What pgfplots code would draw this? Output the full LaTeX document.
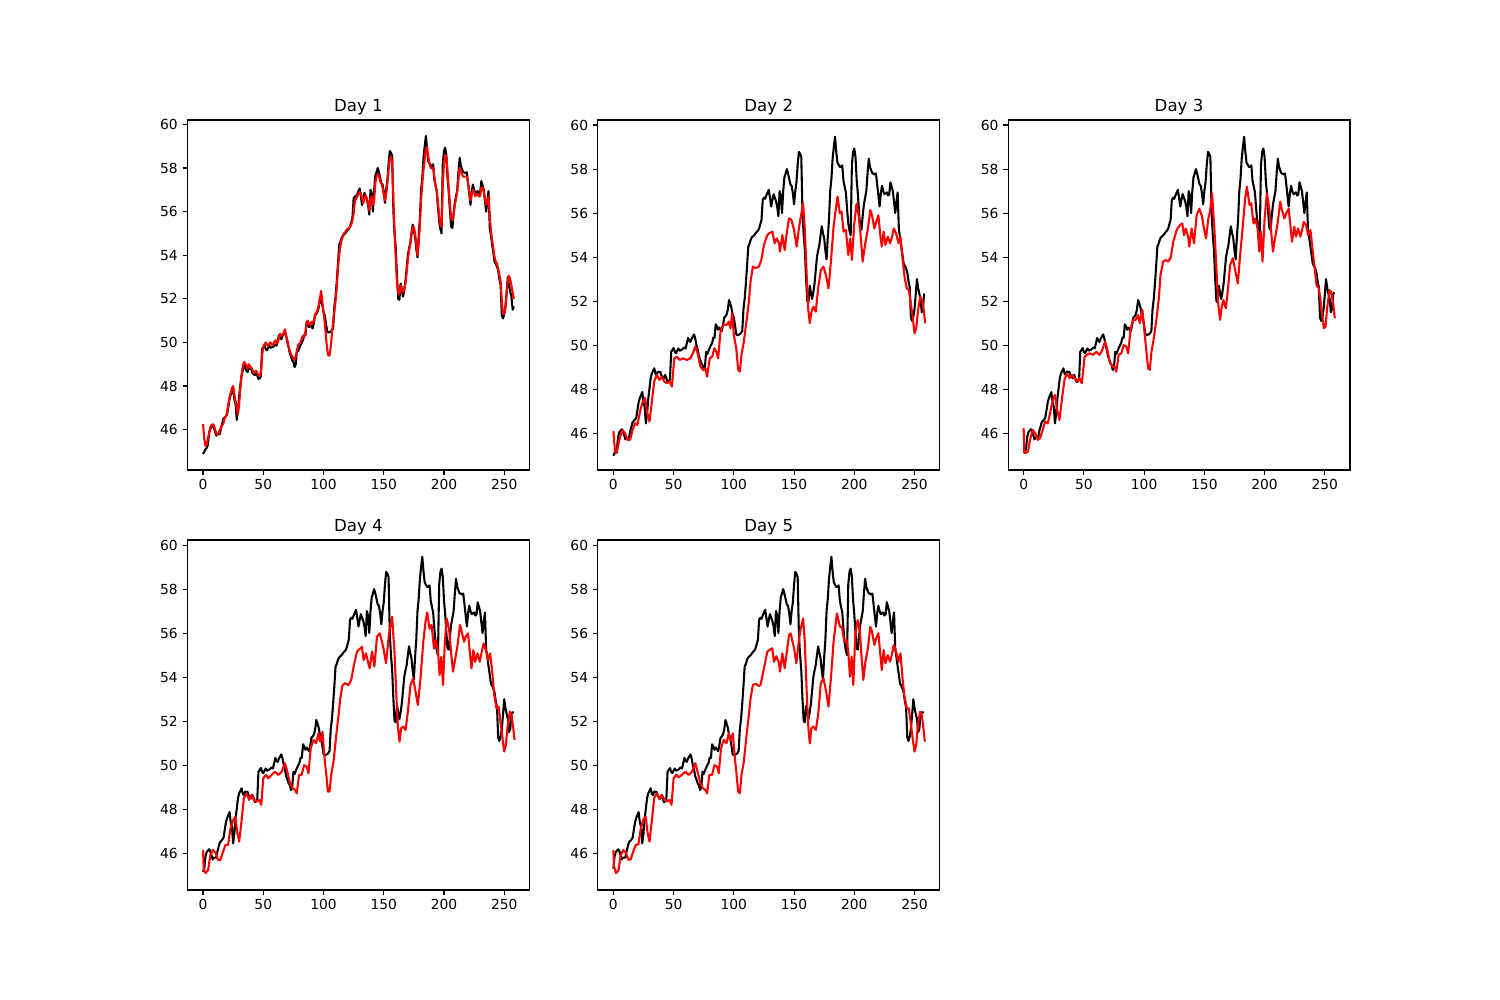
\documentclass[border=0pt]{standalone}
\usepackage{fontspec}
\setmainfont{DejaVu Sans}
\usepackage{pgfplots}
\usepackage{pgfplotstable}
\pgfplotsset{compat=1.18}

% actual series (panel k shows it shifted left by k-1 steps)
\pgfplotstableread[row sep=\\]{
x y\\
0 44.88\\ 1 44.98\\ 2 45.1\\ 3 45.15\\ 4 45.3\\ 5 45.85\\ 6 46.05\\ 8 46.18\\ 9 46.1\\ 11 45.72\\
12 45.8\\ 14 45.8\\ 15 46.1\\ 17 46.5\\ 19 46.62\\ 20 46.7\\ 22 47.41\\ 23 47.6\\ 25 47.87\\ 26 47.4\\
27 47.2\\ 28 46.45\\ 29 46.9\\ 30 47.57\\ 32 48.5\\ 33 48.72\\ 35 48.95\\ 36 48.7\\ 37 48.64\\ 38 48.8\\
40 48.78\\ 41 48.6\\ 43 48.5\\ 44 48.65\\ 46 48.33\\ 47 48.35\\ 48 48.45\\ 49 49.7\\ 51 49.87\\ 52 49.7\\
53 49.64\\ 55 49.85\\ 56 49.75\\ 58 49.8\\ 60 49.9\\ 61 49.85\\ 63 50.33\\ 64 50.2\\ 65 50.15\\ 66 50.3\\
68 50.49\\ 69 50.3\\ 70 50.0\\ 71 49.8\\ 72 49.5\\ 73 49.35\\ 74 49.18\\ 75 49.1\\ 76 48.87\\ 77 49.0\\
78 49.7\\ 79 49.6\\ 80 49.75\\ 82 50.0\\ 83 50.1\\ 84 50.35\\ 85 50.33\\ 86 50.95\\ 87 50.85\\ 88 50.7\\
89 50.8\\ 91 50.64\\ 92 50.9\\ 93 51.25\\ 94 51.3\\ 95 51.4\\ 96 51.6\\ 97 52.05\\ 98 51.9\\ 99 51.7\\
100 51.4\\ 101 51.25\\ 102 50.9\\ 103 50.5\\ 104 50.45\\ 106 50.5\\ 107 50.55\\ 108 50.64\\ 109 51.64\\ 110 52.1\\
111 52.8\\ 112 53.6\\ 113 54.48\\ 114 54.6\\ 115 54.79\\ 116 54.9\\ 118 55.0\\ 120 55.15\\ 121 55.2\\ 122 55.3\\
123 55.5\\ 124 55.7\\ 125 56.6\\ 126 56.7\\ 127 56.65\\ 128 56.8\\ 130 57.06\\ 131 56.7\\ 132 56.3\\ 133 56.6\\
134 56.86\\ 135 56.7\\ 136 56.55\\ 137 56.3\\ 138 55.86\\ 139 57.0\\ 140 56.8\\ 141 56.0\\ 142 57.0\\ 143 57.63\\
144 57.8\\ 145 58.0\\ 146 57.8\\ 147 57.55\\ 148 57.3\\ 149 57.24\\ 150 56.9\\ 151 56.4\\ 152 57.0\\ 153 57.4\\
154 58.2\\ 155 58.78\\ 156 58.7\\ 157 58.55\\ 158 56.0\\ 159 55.0\\ 160 54.3\\ 161 53.0\\ 162 52.0\\ 163 51.95\\
164 52.7\\ 165 52.4\\ 166 52.1\\ 167 52.4\\ 168 52.8\\ 169 53.4\\ 170 54.0\\ 171 54.3\\ 172 54.55\\ 173 55.0\\
174 55.4\\ 175 55.1\\ 176 54.86\\ 177 54.3\\ 178 53.9\\ 179 54.9\\ 180 55.7\\ 181 57.0\\ 182 57.55\\ 183 58.47\\
184 59.0\\ 185 59.47\\ 186 58.8\\ 187 58.3\\ 188 58.2\\ 189 58.1\\ 190 58.1\\ 191 58.17\\ 192 57.47\\ 193 57.2\\
194 56.94\\ 195 56.2\\ 196 55.55\\ 197 55.2\\ 198 55.0\\ 199 58.2\\ 200 58.78\\ 201 58.93\\ 202 58.55\\ 203 57.5\\
204 56.86\\ 205 56.0\\ 206 55.3\\ 207 55.25\\ 208 55.9\\ 209 56.4\\ 210 56.7\\ 211 57.0\\ 212 57.8\\ 213 58.47\\
214 58.1\\ 215 57.94\\ 216 57.8\\ 217 57.8\\ 218 57.75\\ 219 57.8\\ 220 57.3\\ 221 56.8\\ 222 56.3\\ 223 56.9\\
224 57.24\\ 225 57.0\\ 226 56.86\\ 227 56.9\\ 228 56.94\\ 229 56.8\\ 230 56.85\\ 231 57.4\\ 232 57.2\\ 233 57.0\\
234 56.5\\ 235 56.0\\ 236 56.5\\ 237 56.94\\ 238 55.25\\ 239 54.9\\ 240 54.48\\ 241 54.1\\ 242 53.7\\ 243 53.6\\
244 53.48\\ 245 53.3\\ 246 52.9\\ 247 52.64\\ 248 51.25\\ 249 51.1\\ 250 51.3\\ 251 51.64\\ 252 52.3\\ 253 53.0\\
254 52.6\\ 255 52.33\\ 256 52.1\\ 257 51.5\\ 258 51.65\\ 259 52.35\\ 260 52.4\\ 261 52.4\\ 262 52.4\\ 263 52.4\\
}\actual

\pgfplotsset{
  dayaxis/.style={
    scale only axis, width=3.419in, height=3.5in, anchor=south west,
    xmin=-12.9, xmax=270.9,
    xtick={0,50,...,250}, ytick={46,48,...,60},
    tick align=outside, tick pos=left,
    major tick length=3.5pt,
    every tick/.style={black, line width=0.8pt},
    axis line style={line width=0.8pt},
    ticklabel style={font=\fontsize{10}{12}\selectfont},
    /pgf/number format/assume math mode=true,
    title style={font=\fontsize{12}{14}\selectfont, at={(0.5,1)}, anchor=base, inner sep=0pt},
  },
  actual/.style={black, line width=1.5pt, line join=round},
  pred/.style={red, line width=1.5pt, line join=round},
}

\begin{document}
\begin{tikzpicture}
\path[use as bounding box] (0,0) rectangle (15in,10in);

% ---------- Day 1 ----------
\begin{axis}[dayaxis, at={(1.875in,5.30in)}, ymin=44.15, ymax=60.2, title={Day 1}]
\addplot[actual, restrict x to domain=0:258] table[x=x, y=y] {\actual};
\addplot[pred] coordinates {
(0,46.26)(1,45.6)(2,45.26)(3,45.3)(4,45.6)(5,45.8)(6,46.1)(7,46.2)(8,46.25)(9,46.2)
(10,46.0)(11,45.85)(12,45.75)(13,45.85)(14,46.0)(16,46.2)(17,46.3)(18,46.55)(19,46.6)(20,46.8)
(21,47.2)(22,47.5)(23,47.7)(24,47.9)(25,48.0)(26,47.6)(27,47.3)(28,47.0)(29,46.7)(30,47.2)
(31,47.9)(32,48.5)(33,48.9)(34,49.1)(35,49.05)(36,48.9)(37,48.8)(38,49.0)(39,48.9)(40,48.85)
(41,48.75)(42,48.6)(43,48.65)(44,48.7)(45,48.6)(46,48.5)(47,48.45)(48,48.6)(49,49.4)(50,49.8)
(51,49.9)(52,50.0)(53,49.9)(54,49.85)(55,49.95)(56,50.0)(57,49.9)(58,49.9)(59,50.0)(60,50.1)
(61,49.95)(62,50.0)(63,50.2)(64,50.4)(65,50.3)(66,50.35)(67,50.45)(68,50.6)(69,50.3)(70,50.1)
(71,49.8)(72,49.6)(73,49.45)(74,49.35)(75,49.3)(76,49.2)(77,49.35)(78,49.6)(79,49.9)(80,49.95)
(81,50.0)(82,50.2)(83,50.3)(84,50.25)(85,50.5)(86,50.9)(87,51.0)(88,50.85)(89,50.8)(90,50.95)
(91,50.85)(92,51.0)(93,51.3)(94,51.35)(95,51.5)(96,51.7)(97,52.0)(98,52.36)(99,51.9)(100,51.4)
(101,50.9)(102,50.3)(103,49.7)(104,49.4)(105,49.4)(106,49.8)(107,50.4)(108,51.0)(109,51.4)(110,51.9)
(111,52.5)(112,53.4)(113,54.0)(114,54.4)(115,54.7)(116,54.85)(117,55.0)(118,55.05)(119,55.15)(120,55.2)
(121,55.25)(122,55.3)(123,55.4)(124,55.6)(125,55.9)(126,56.45)(127,56.6)(128,56.7)(129,56.8)(130,56.9)
(131,56.85)(132,56.6)(133,56.4)(134,56.6)(135,56.75)(136,56.6)(137,56.35)(138,56.05)(139,56.6)(140,56.7)
(141,56.3)(142,56.5)(143,57.3)(144,57.6)(145,57.7)(146,57.65)(147,57.4)(148,57.3)(149,57.1)(150,56.8)
(151,56.5)(152,56.8)(153,57.3)(154,57.9)(155,58.4)(156,58.5)(157,58.3)(158,56.6)(159,55.0)(160,53.8)
(161,52.7)(162,52.3)(163,52.2)(164,52.6)(165,52.55)(166,52.3)(167,52.4)(168,52.7)(169,53.2)(170,53.8)
(171,54.2)(172,54.5)(173,54.9)(174,55.3)(175,55.3)(176,55.0)(177,54.5)(178,54.0)(179,54.5)(180,55.4)
(181,56.5)(182,57.3)(183,57.9)(184,58.4)(185,58.9)(186,58.95)(187,58.5)(188,58.2)(189,58.0)(190,58.0)
(191,58.0)(192,57.6)(193,57.2)(194,56.9)(195,56.4)(196,55.8)(197,55.4)(198,55.3)(199,57.2)(200,58.2)
(201,58.6)(202,58.5)(203,57.8)(204,57.0)(205,56.3)(206,55.7)(207,55.6)(208,55.9)(209,56.3)(210,56.6)
(211,56.9)(212,57.5)(213,58.0)(214,57.9)(215,57.7)(216,57.6)(217,57.6)(218,57.6)(219,57.6)(220,57.3)
(221,56.9)(222,56.5)(223,56.8)(224,57.0)(225,56.9)(226,56.7)(227,56.8)(228,56.8)(229,56.7)(230,56.7)
(231,57.1)(232,57.1)(233,56.9)(234,56.6)(235,56.3)(236,56.4)(237,56.7)(238,55.8)(239,55.1)(240,54.7)
(241,54.3)(242,53.9)(243,53.7)(244,53.6)(245,53.4)(246,53.1)(247,52.8)(248,51.9)(249,51.3)(250,51.3)
(251,51.6)(252,52.2)(253,52.8)(254,53.05)(255,52.9)(256,52.6)(257,52.3)(258,52.0)
};
\end{axis}

% ---------- Day 2 ----------
\begin{axis}[dayaxis, at={(5.978in,5.30in)}, ymin=44.33, ymax=60.23, title={Day 2}]
\addplot[actual, restrict x to domain=0:258.5] table[x expr=\thisrow{x}-1, y=y] {\actual};
\addplot[pred] coordinates {
(0,46.1)(1.4,45.17)(2.8,45.1)(5,45.7)(7.5,46.15)(9.7,46.0)(11.7,45.7)(13.9,45.7)(16,46.15)(18,46.45)
(20,46.38)(22.2,47.0)(24.4,47.44)(26.4,47.6)(27.8,47.0)(30,46.53)(32,47.44)(33.9,48.35)(36.1,48.65)(38.3,48.42)
(40.3,48.57)(42.2,48.35)(44.4,48.27)(46.7,48.35)(48.6,48.12)(50.6,49.4)(52.8,49.48)(55,49.33)(57.8,49.4)(61,49.33)
(63.9,49.4)(66,49.63)(68,49.94)(70,49.63)(72.2,49.03)(74.4,48.88)(76.4,48.95)(77.8,48.57)(80,49.4)(82,49.48)
(83.9,49.86)(85.5,49.7)(87,49.4)(88.9,50.6)(91.1,50.92)(93.9,50.92)(95.8,51.07)(97.2,50.77)(98.6,51.45)(100,50.47)
(102,49.86)(103.6,48.88)(105,48.8)(106.4,49.56)(108.3,50.16)(110.5,51.07)(112.5,51.98)(113.9,52.9)(115.8,53.57)(118,53.5)
(120.8,53.57)(122.8,53.87)(125,54.55)(127.8,55.0)(129.2,55.08)(132,55.16)(133.9,54.63)(135.6,54.85)(137.5,54.63)(138.3,54.25)
(140.3,55.0)(142.2,54.32)(143.9,55.08)(145.8,55.76)(147.8,55.7)(150,55.23)(152.2,54.48)(154.2,55.38)(155.6,55.84)(157.5,56.44)
(158.9,55.3)(160.6,53.04)(161.7,51.68)(163,51.0)(164.4,51.52)(166.1,51.75)(168,51.52)(170,52.58)(172.2,53.4)(174.4,53.57)
(176.4,53.2)(178.6,52.58)(180.6,53.8)(182.8,55.38)(184.7,56.2)(186.1,56.75)(188,56.0)(189.4,56.07)(191.1,55.16)(193,55.24)
(195,54.1)(196.7,54.85)(198,53.87)(200,55.53)(201.9,56.44)(203.6,55.9)(205.6,54.78)(206.9,53.8)(208.9,54.55)(211.1,55.23)
(213.3,56.14)(214.7,55.9)(216.7,55.3)(218.1,55.6)(220,55.9)(221.7,54.93)(222.8,54.48)(224.4,55.16)(225.8,54.55)(227.8,54.93)
(229.7,54.63)(231.4,54.93)(232.8,55.3)(234.7,55.08)(236.7,54.63)(238.3,54.93)(240.3,53.8)(241.7,53.1)(243.6,52.58)(245.3,52.5)
(246.7,51.98)(248.6,51.22)(250,50.54)(251.4,50.77)(252.8,51.52)(254.7,52.2)(256.4,52.05)(257.8,51.52)(258.8,51.0)
};
\end{axis}

% ---------- Day 3 ----------
\begin{axis}[dayaxis, at={(10.081in,5.30in)}, ymin=44.33, ymax=60.23, title={Day 3}]
\addplot[actual, restrict x to domain=0:258.5] table[x expr=\thisrow{x}-2, y=y] {\actual};
\addplot[pred] coordinates {
(0,46.23)(0.5,45.17)(1.9,45.1)(3.6,45.17)(5.3,45.7)(7.5,46.15)(9.7,46.0)(11.7,45.7)(13.6,45.77)(15.8,46.15)
(17.8,46.53)(20,46.45)(21.9,46.9)(24.2,47.51)(26.1,47.74)(27.5,47.13)(29.7,46.6)(31.9,47.6)(33.9,48.42)(35.8,48.72)
(38,48.5)(40,48.65)(42.2,48.5)(44.2,48.35)(46.4,48.5)(48.3,48.27)(50.6,49.48)(52.5,49.56)(54.7,49.63)(57.5,49.56)
(60.3,49.7)(63,49.56)(65.3,49.78)(67.5,50.16)(69.2,49.86)(71.4,49.25)(73.6,49.03)(75.6,49.03)(76.9,48.8)(78.9,49.56)
(81.1,49.63)(83,50.0)(85.3,49.93)(86.7,49.63)(88.9,50.77)(90.8,51.15)(93,51.15)(95,51.37)(96.4,51.0)(98.6,51.6)
(100,50.77)(101.9,49.7)(103.3,48.95)(104.7,48.88)(106.1,49.7)(108,50.3)(110.3,51.22)(112.2,52.13)(113.6,53.19)(115.8,53.8)
(117.8,53.87)(120,53.8)(122.2,54.0)(124.2,54.7)(127,55.23)(129.7,55.46)(131.7,55.53)(133.1,55.0)(134.7,55.3)(136.7,54.85)
(137.5,54.48)(139.4,55.3)(141.4,54.63)(143.6,55.9)(145.8,56.2)(147.8,55.9)(149.7,55.3)(151.4,54.85)(153.3,55.76)(154.7,56.07)
(156.4,56.9)(158.3,55.3)(160.3,53.19)(161.7,51.75)(163.1,51.15)(164.4,51.75)(165.8,52.05)(167.8,51.68)(169.4,52.43)(171.4,53.64)
(173.6,53.95)(175.6,53.4)(177.8,52.8)(179.7,54.1)(182,55.46)(183.9,56.67)(185.3,57.2)(187.5,56.37)(188.9,56.45)(190.8,55.53)
(192.2,55.76)(194.2,55.3)(195.6,54.25)(196.9,55.16)(198.3,53.8)(200,55.76)(201.9,56.9)(203.9,56.2)(205.6,55.08)(206.9,54.25)
(208.9,54.93)(210.8,55.53)(213,56.52)(214.4,56.14)(216.4,55.76)(218,55.99)(220,56.2)(221.4,55.46)(222.8,54.7)(224.7,55.38)
(226.1,54.93)(227.8,55.3)(229.7,54.93)(231.1,55.23)(232.5,55.6)(234.4,55.46)(236.1,55.0)(238.1,55.23)(239.4,54.55)(241.4,53.57)
(243.1,52.73)(245,52.58)(246.4,52.05)(247.8,51.37)(249.2,50.77)(250.6,50.85)(251.9,51.68)(253.9,52.5)(255.3,52.43)(256.9,51.9)
(258.3,51.22)
};
\end{axis}

% ---------- Day 4 ----------
\begin{axis}[dayaxis, at={(1.875in,1.10in)}, ymin=44.33, ymax=60.23, title={Day 4}]
\addplot[actual, restrict x to domain=0:258.5] table[x expr=\thisrow{x}-3, y=y] {\actual};
\addplot[pred] coordinates {
(0,46.15)(0.6,45.24)(2.2,45.1)(4.2,45.24)(6.1,45.92)(8.3,46.15)(10.6,46.0)(12.5,45.7)(14.4,45.7)(16.7,46.08)
(18.6,46.38)(20.8,46.38)(22.8,47.13)(25,47.51)(26.9,47.66)(28.3,46.98)(30,46.53)(31.9,47.44)(33.9,48.5)(36.1,48.72)
(38.3,48.42)(40.3,48.65)(42.2,48.42)(44.4,48.35)(46.7,48.42)(48.3,48.2)(50,49.4)(52.2,49.56)(54.2,49.4)(56.9,49.56)
(59.7,49.7)(62.5,49.56)(65.3,49.7)(68,50.09)(70,49.7)(72.2,49.18)(74.4,48.95)(76.4,48.88)(77.8,48.72)(79.7,49.56)
(81.9,49.56)(83.9,50.0)(86.1,49.93)(87.5,49.63)(89.4,50.77)(91.7,51.15)(93.9,51.0)(95.8,51.45)(97.2,51.07)(99.2,51.52)
(100.6,50.47)(102.2,49.63)(103.6,48.8)(105,48.8)(106.4,49.56)(108.3,50.16)(110.6,51.37)(112.5,52.28)(113.9,53.04)(115.8,53.64)
(118,53.72)(120.8,53.64)(123,53.87)(125,54.48)(127.8,55.16)(130.6,55.3)(131.9,55.38)(133.3,54.78)(135.3,55.08)(137.5,54.55)
(138.3,54.4)(140.3,55.16)(142.2,54.48)(144.4,55.84)(146.7,55.99)(148.6,55.6)(150,55.23)(151.9,54.63)(154.2,55.9)(155.6,56.37)
(156.9,56.75)(158.9,55.16)(160.6,53.04)(161.7,51.75)(163.1,51.07)(164.4,51.68)(166.1,51.75)(168.1,51.6)(170,52.43)(172.2,53.64)
(174.4,53.95)(176.4,53.34)(178.3,52.73)(180.6,54.0)(182.8,55.6)(184.7,56.52)(186.1,56.94)(188,56.2)(189.7,56.37)(191.7,55.3)
(193.1,55.68)(195,55.23)(196.4,54.1)(197.8,54.93)(199.2,53.64)(200.6,55.46)(202.2,56.67)(204.2,56.2)(206.1,55.0)(207.5,54.25)
(209.2,54.78)(211.1,55.38)(213.3,56.37)(214.7,56.07)(216.7,55.6)(218.1,55.84)(220,55.99)(221.4,55.16)(222.8,54.4)(224.4,55.23)
(225.8,54.7)(227.8,55.08)(229.7,54.7)(231.4,55.16)(232.8,55.53)(234.7,55.23)(236.7,54.78)(238.3,55.08)(240.3,54.1)(241.7,53.19)
(243.6,52.58)(245.3,52.66)(246.7,52.05)(248.6,51.22)(250,50.62)(251.4,50.93)(252.8,51.75)(254.7,52.43)(256.1,52.28)(257.5,51.68)
(258.6,51.15)
};
\end{axis}

% ---------- Day 5 ----------
\begin{axis}[dayaxis, at={(5.978in,1.10in)}, ymin=44.33, ymax=60.23, title={Day 5}]
\addplot[actual, restrict x to domain=0:258.5] table[x expr=\thisrow{x}-4, y=y] {\actual};
\addplot[pred] coordinates {
(0,46.15)(0.6,45.4)(2.2,45.1)(4.2,45.2)(6.1,45.9)(8.3,46.15)(10.6,46.0)(12.5,45.7)(14.4,45.72)(16.7,46.1)
(18.6,46.38)(20.8,46.4)(22.8,47.13)(25,47.55)(26.9,47.66)(28.3,46.98)(30,46.53)(31.9,47.44)(33.9,48.5)(36.1,48.72)
(38.3,48.45)(40.3,48.65)(42.2,48.45)(44.4,48.35)(46.7,48.42)(48.3,48.2)(50,49.4)(52.2,49.56)(54.2,49.45)(56.9,49.56)
(59.7,49.7)(62.5,49.56)(65.3,49.7)(68,50.09)(70,49.7)(72.2,49.18)(74.4,48.95)(76.4,48.88)(77.8,48.72)(79.7,49.56)
(81.9,49.56)(83.9,50.0)(86.1,49.93)(87.5,49.63)(89.4,50.77)(91.7,51.15)(93.9,51.0)(95.8,51.45)(97.2,51.1)(99.2,51.45)
(100.6,50.47)(102.2,49.63)(103.6,48.8)(105,48.72)(106.4,49.56)(108.3,50.16)(110.6,51.37)(112.5,52.28)(113.9,53.04)(115.8,53.64)
(118,53.7)(120.8,53.6)(122.2,53.64)(125,54.4)(127.8,55.16)(131.9,55.31)(133.3,54.7)(135.3,54.95)(137.5,54.63)(138.3,54.25)
(140.3,55.08)(142.2,54.4)(145.8,55.91)(147.2,55.99)(150,55.31)(151.9,54.63)(154.2,55.76)(155.6,56.22)(157.5,56.67)(158.9,55.61)
(160.6,53.19)(161.9,51.68)(163.1,50.99)(164.4,51.68)(166.1,51.75)(168.1,51.6)(170,52.28)(172.2,53.72)(174.4,53.95)(176.4,53.42)
(178.6,52.66)(180.6,53.95)(182.8,55.61)(185.6,56.9)(188.1,56.29)(189.7,56.29)(191.7,55.61)(193.6,55.69)(195,55.16)(196.4,54.02)
(197.8,54.93)(199.2,53.64)(200.8,55.91)(202.8,56.59)(204.7,56.06)(206.1,54.85)(207.5,53.87)(209.2,54.7)(211.1,55.23)(213.3,56.29)
(214.7,56.06)(216.7,55.46)(218.1,55.76)(220,55.99)(221.4,55.16)(222.8,54.32)(224.4,55.23)(225.8,54.63)(227.8,55.0)(229.7,54.7)
(231.4,55.08)(232.8,55.46)(234.7,55.16)(236.7,54.7)(238.3,55.08)(240.3,53.79)(241.7,53.11)(243.6,52.58)(245.3,52.58)(246.7,51.98)
(248.6,51.15)(250,50.62)(251.4,50.92)(252.8,51.83)(254.7,52.43)(256.1,52.28)(257.5,51.6)(258.6,51.07)
};
\end{axis}
\end{tikzpicture}
\end{document}
